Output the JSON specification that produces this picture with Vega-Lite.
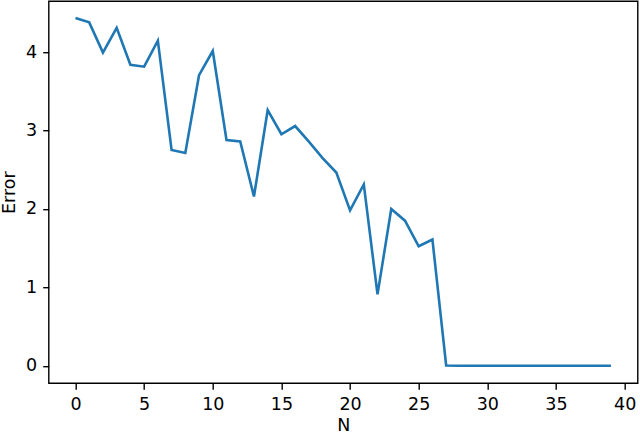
{
  "$schema": "https://vega.github.io/schema/vega-lite/v6.json",
  "autosize": "none",
  "width": 589,
  "height": 382,
  "padding": {"left": 48.7, "top": 1.2, "right": 2, "bottom": 51},
  "background": "white",
  "config": {
    "font": "DejaVu Sans",
    "view": {"stroke": "black", "strokeWidth": 1.4},
    "axis": {
      "grid": false,
      "domain": false,
      "ticks": true,
      "tickColor": "black",
      "tickSize": 6,
      "tickWidth": 1.4,
      "labelFont": "DejaVu Sans",
      "labelFontSize": 17.5,
      "labelColor": "black",
      "titleFont": "DejaVu Sans",
      "titleFontSize": 17.5,
      "titleFontWeight": "normal",
      "titleColor": "black"
    }
  },
  "data": {
    "values": [
      {"N": 0, "Error": 4.435},
      {"N": 1, "Error": 4.38},
      {"N": 2, "Error": 3.995},
      {"N": 3, "Error": 4.31},
      {"N": 4, "Error": 3.84},
      {"N": 5, "Error": 3.815},
      {"N": 6, "Error": 4.147},
      {"N": 7, "Error": 2.753},
      {"N": 8, "Error": 2.715},
      {"N": 9, "Error": 3.706},
      {"N": 10, "Error": 4.015},
      {"N": 11, "Error": 2.88},
      {"N": 12, "Error": 2.86},
      {"N": 13, "Error": 2.16},
      {"N": 14, "Error": 3.26},
      {"N": 15, "Error": 2.953},
      {"N": 16, "Error": 3.058},
      {"N": 17, "Error": 2.86},
      {"N": 18, "Error": 2.648},
      {"N": 19, "Error": 2.465},
      {"N": 20, "Error": 1.982},
      {"N": 21, "Error": 2.313},
      {"N": 22, "Error": 0.911},
      {"N": 23, "Error": 2.0},
      {"N": 24, "Error": 1.851},
      {"N": 25, "Error": 1.525},
      {"N": 26, "Error": 1.61},
      {"N": 27, "Error": 0.005},
      {"N": 28, "Error": 0.0},
      {"N": 29, "Error": 0.0},
      {"N": 30, "Error": 0.0},
      {"N": 31, "Error": 0.0},
      {"N": 32, "Error": 0.0},
      {"N": 33, "Error": 0.0},
      {"N": 34, "Error": 0.0},
      {"N": 35, "Error": 0.0},
      {"N": 36, "Error": 0.0},
      {"N": 37, "Error": 0.0},
      {"N": 38, "Error": 0.0},
      {"N": 39, "Error": 0.0}
    ]
  },
  "mark": {"type": "line", "color": "#1f77b4", "strokeWidth": 2.6, "clip": true},
  "encoding": {
    "x": {
      "field": "N",
      "type": "quantitative",
      "scale": {"domain": [-1.95, 40.95], "nice": false, "zero": false},
      "axis": {"values": [0, 5, 10, 15, 20, 25, 30, 35, 40], "title": "N", "labelPadding": 6, "titlePadding": 4}
    },
    "y": {
      "field": "Error",
      "type": "quantitative",
      "scale": {"domain": [-0.2215, 4.65], "nice": false, "zero": false},
      "axis": {"values": [0, 1, 2, 3, 4], "title": "Error", "labelPadding": 6, "titlePadding": 7}
    }
  }
}
